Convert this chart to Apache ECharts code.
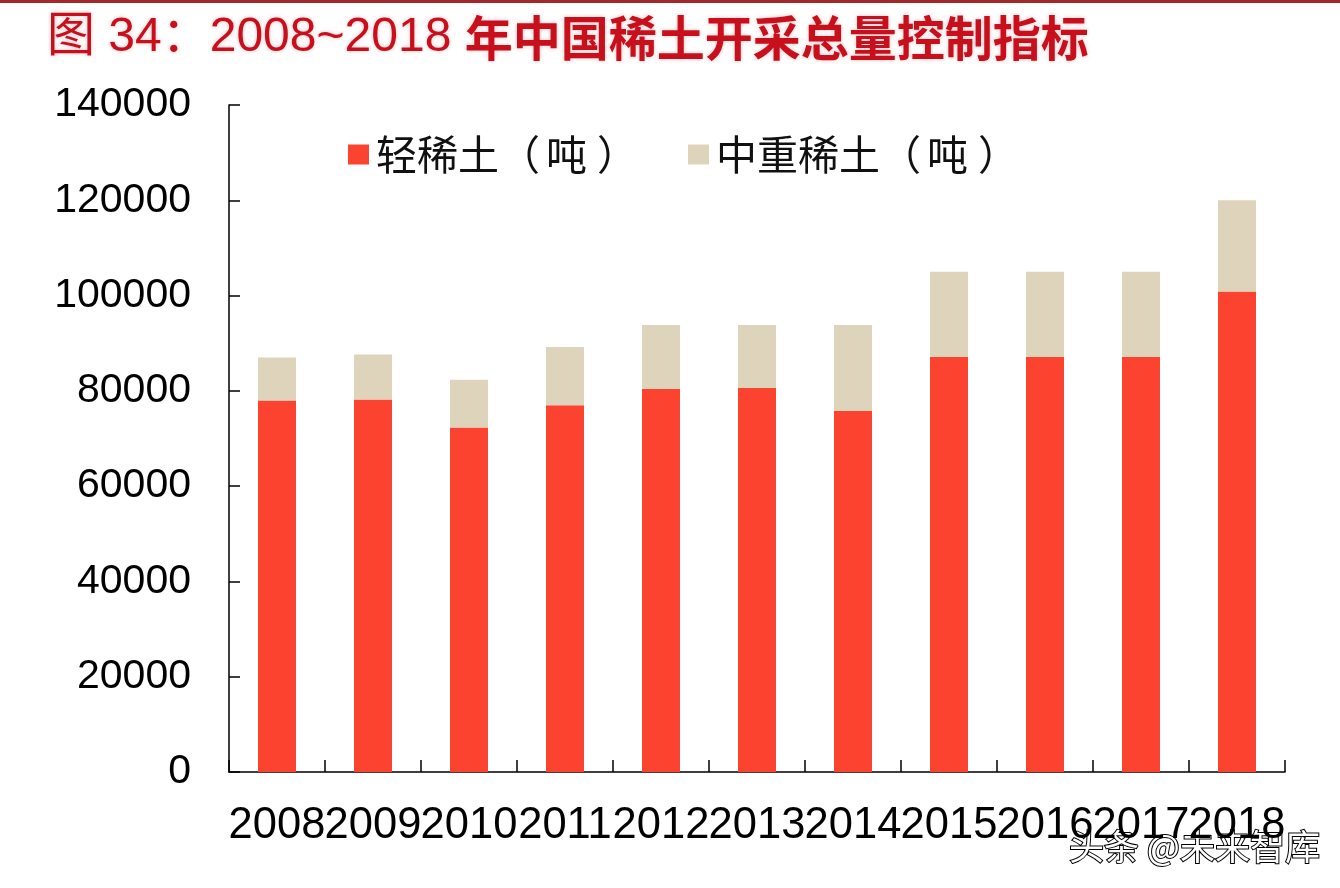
<!DOCTYPE html>
<html>
<head>
<meta charset="utf-8">
<script src="https://cdn.jsdelivr.net/npm/echarts@6/dist/echarts.min.js"></script>
<style>
html,body{margin:0;padding:0;background:#fff;}
#c{width:1340px;height:888px;}
</style>
</head>
<body>
<div id="c"></div>
<script>
var years = ['2008','2009','2010','2011','2012','2013','2014','2015','2016','2017','2018'];
var lightRE = [78000, 78200, 72300, 77000, 80400, 80600, 75800, 87100, 87100, 87100, 100850];
var heavyRE = [9020, 9420, 10020, 12200, 13400, 13200, 18000, 17900, 17900, 17900, 19150];
var seriesNames = ['轻稀土（吨）', '中重稀土（吨）'];
var yTicks = [0, 20000, 40000, 60000, 80000, 100000, 120000, 140000];
var titlePartA = '图 34：2008~2018 ';
var titlePartB = '年中国稀土开采总量控制指标';
var watermark = '头条 @未来智库';

var chart = echarts.init(document.getElementById('c'), null, {renderer: 'canvas'});
var font = '"Liberation Sans", Arial, "Noto Sans CJK SC", sans-serif';
var cjk = '"Noto Sans CJK SC", sans-serif';
var titleShadow = {textShadowColor: 'rgba(200,16,28,0.25)', textShadowBlur: 4};
var option = {
  backgroundColor: '#ffffff',
  animation: false,
  textStyle: {fontFamily: font},
  title: {
    text: '{a|' + titlePartA + '}{b|' + titlePartB + '}',
    left: 42, top: 9,
    textStyle: {
      rich: {
        a: Object.assign({fontFamily: '"Liberation Sans", "Noto Sans CJK SC", sans-serif', fontSize: 48, fontWeight: 'normal', color: '#c8101c'}, titleShadow),
        b: Object.assign({fontFamily: cjk, fontSize: 48, fontWeight: 'bold', color: '#c8101c'}, titleShadow)
      }
    }
  },
  legend: {
    data: seriesNames,
    left: 343, top: 129,
    itemWidth: 21, itemHeight: 20,
    itemGap: 50,
    icon: 'rect',
    formatter: function (name) {
      return '{t|' + name.replace('（', '（}{p|').replace('）', '}{t|）}');
    },
    textStyle: {
      fontSize: 41, color: '#111', fontFamily: cjk, padding: [0, 0, 0, 2],
      rich: {
        t: {fontSize: 41, color: '#111', fontFamily: cjk},
        p: {fontSize: 41, color: '#111', fontFamily: cjk, padding: [0, 10, 0, 6]}
      }
    }
  },
  grid: {left: 229, right: 55, top: 105, bottom: 116, containLabel: false},
  xAxis: {
    type: 'category',
    data: years,
    axisLine: {lineStyle: {color: '#000', width: 1.5}},
    axisTick: {show: true, inside: true, length: 12, alignWithLabel: false, lineStyle: {color: '#000', width: 1.5}},
    axisLabel: {interval: 0, fontSize: 43.5, color: '#000', margin: 32, fontFamily: font},
    splitLine: {show: false}
  },
  yAxis: {
    type: 'value',
    min: yTicks[0], max: yTicks[yTicks.length - 1], interval: 20000,
    axisLine: {show: true, lineStyle: {color: '#000', width: 1.5}},
    axisTick: {show: true, inside: true, length: 11, lineStyle: {color: '#000', width: 1.5}},
    axisLabel: {fontSize: 41, color: '#000', margin: 38, fontFamily: font, formatter: function (v) { return String(v); }},
    splitLine: {show: false}
  },
  series: [
    {name: seriesNames[0], type: 'bar', stack: 'total', data: lightRE, barWidth: 38,
     itemStyle: {color: '#fb4330'}},
    {name: seriesNames[1], type: 'bar', stack: 'total', data: heavyRE, barWidth: 38,
     itemStyle: {color: '#ded4bb'}}
  ],
  graphic: [
    {type: 'rect', left: 0, top: 0, shape: {width: 1340, height: 3}, style: {fill: '#a3282c'}},
    {type: 'text', left: 1068, top: 828, style: {text: watermark, fontSize: 35, fill: '#ffffff',
      fontFamily: cjk,
      stroke: '#000', lineWidth: 2,
      shadowColor: 'rgba(0,0,0,0.8)', shadowOffsetX: -2, shadowOffsetY: 2, shadowBlur: 0}}
  ]
};
chart.setOption(option);
</script>
</body>
</html>
